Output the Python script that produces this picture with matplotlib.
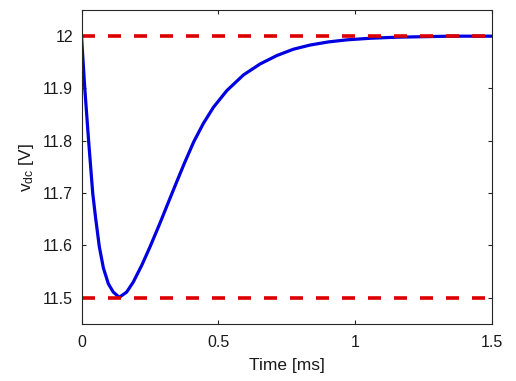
import numpy as np
import matplotlib
matplotlib.use("Agg")
import matplotlib.pyplot as plt

plt.rcParams['font.family'] = ['Liberation Sans', 'DejaVu Sans']
plt.rcParams['mathtext.fontset'] = 'custom'
plt.rcParams['mathtext.rm'] = 'Liberation Sans'

time_ms = [0, 0.012, 0.026, 0.041, 0.051, 0.065, 0.080, 0.098, 0.116, 0.138,
           0.165, 0.189, 0.220, 0.250, 0.287, 0.317, 0.345, 0.375, 0.410, 0.445,
           0.482, 0.531, 0.592, 0.653, 0.714, 0.774, 0.835, 0.902, 0.970, 1.055,
           1.150, 1.250, 1.350, 1.500]
vdc = [12.0, 11.90, 11.80, 11.70, 11.655, 11.598, 11.557, 11.527, 11.511, 11.501,
       11.511, 11.530, 11.562, 11.597, 11.643, 11.682, 11.718, 11.756, 11.798, 11.833,
       11.864, 11.896, 11.926, 11.947, 11.963, 11.975, 11.983, 11.989, 11.993, 11.996,
       11.998, 11.999, 12.0, 12.0]
v_upper = 12.0
v_lower = 11.5
x_range = [0, 1.5]

xticks = [0, 0.5, 1, 1.5]
xticklabels = ['0', '0.5', '1', '1.5']
yticks = [11.5, 11.6, 11.7, 11.8, 11.9, 12.0]
yticklabels = ['11.5', '11.6', '11.7', '11.8', '11.9', '12']

fig = plt.figure(figsize=(5.16, 3.81), dpi=100)
ax = fig.add_axes([81.5 / 516, 57 / 381, 410.5 / 516, 314 / 381])

ax.plot(time_ms, vdc, color='#0000e0', lw=2.3)
ax.plot(x_range, [v_upper, v_upper], color='#dd0000', lw=2.6, dashes=(3.6, 3.6))
ax.plot(x_range, [v_lower, v_lower], color='#dd0000', lw=2.6, dashes=(3.6, 3.6))

ax.set_xlim(0, 1.5)
ax.set_ylim(11.45, 12.05)
ax.set_xticks(xticks)
ax.set_xticklabels(xticklabels)
ax.set_yticks(yticks)
ax.set_yticklabels(yticklabels)

grey = '#262626'
for s in ax.spines.values():
    s.set_color(grey)
    s.set_linewidth(0.8)
ax.tick_params(direction='in', top=True, right=True, length=3, width=0.8,
               color=grey, labelsize=11.5, labelcolor='#1a1a1a')
ax.tick_params(axis='x', pad=8)
ax.tick_params(axis='y', pad=6)

ax.set_xlabel('Time [ms]', fontsize=12.5, color='#1a1a1a', labelpad=6)
ax.set_ylabel(r'$\mathregular{v_{dc}}$ [V]', fontsize=12.5, color='#1a1a1a', labelpad=5)

fig.savefig('out.png', dpi=100)
